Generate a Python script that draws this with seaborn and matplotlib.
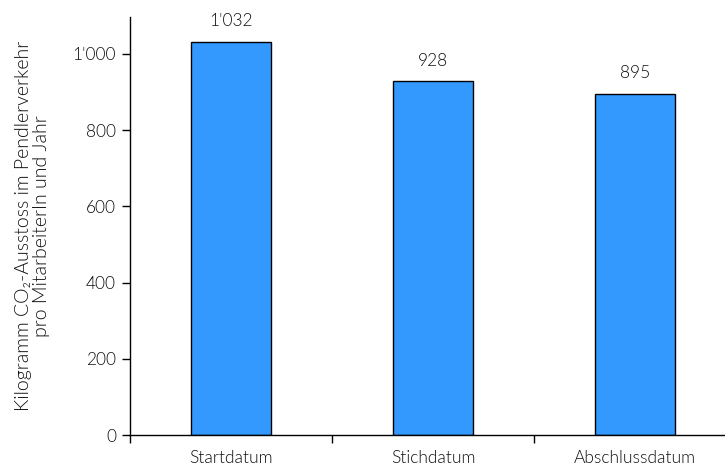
import matplotlib
matplotlib.use("Agg")
import matplotlib.pyplot as plt
import matplotlib.ticker as mticker
import seaborn as sns
import pandas as pd

categories = ["Startdatum", "Stichdatum", "Abschlussdatum"]
values = [1032, 928, 895]
yticks = [0, 200, 400, 600, 800, 1000]

sns.set_style("white")
plt.rcParams['font.family'] = ['Lato', 'DejaVu Sans']
plt.rcParams['font.weight'] = 300
txt = "#111111"
plt.rcParams['text.color'] = txt
plt.rcParams['axes.labelcolor'] = txt
plt.rcParams['xtick.color'] = txt
plt.rcParams['ytick.color'] = txt

def fmt(v):
    s = f"{int(round(v)):,}".replace(",", "'")
    return s

df = pd.DataFrame({"cat": categories, "val": values})
fig = plt.figure(figsize=(7.25, 4.65), dpi=100)
ax = fig.add_axes([130/725, 30/465, 595/725, 418/465])
sns.barplot(data=df, x="cat", y="val", color="#3399FF", saturation=1,
            edgecolor="black", linewidth=1, width=0.4, ax=ax)
ax.set_xlim(-0.5, -0.5 + 595/202)
ax.set_ylim(0, 1097)
ax.set_yticks(yticks)
ax.yaxis.set_major_formatter(mticker.FuncFormatter(lambda v, p: fmt(v)))
ax.set_xticks([-0.5, 0.5, 1.5])
ax.set_xticklabels([])
ax.set_xticks([0, 1, 2], minor=True)
ax.set_xticklabels(categories, minor=True)
ax.tick_params(axis='x', which='major', length=6, width=1, direction='out', color='black', bottom=True)
ax.tick_params(axis='x', which='minor', length=0, pad=11, labelsize=12.5, labelcolor=txt)
ax.tick_params(axis='y', length=6, width=1, direction='out', color='black', left=True, labelsize=12.5, pad=4, labelcolor=txt)
for s in ["top", "right"]:
    ax.spines[s].set_visible(False)
for s in ["left", "bottom"]:
    ax.spines[s].set_color("black")
    ax.spines[s].set_linewidth(1)
ax.set_xlabel("")
ax.set_ylabel("Kilogramm CO₂-Ausstoss im Pendlerverkehr\npro MitarbeiterIn und Jahr",
              fontsize=14, labelpad=16, linespacing=1.12, fontweight=300, color=txt)
for c in ax.containers:
    ax.bar_label(c, labels=[fmt(v) for v in values], padding=9, fontsize=12.5, color=txt)
fig.savefig("out.png", dpi=100)
